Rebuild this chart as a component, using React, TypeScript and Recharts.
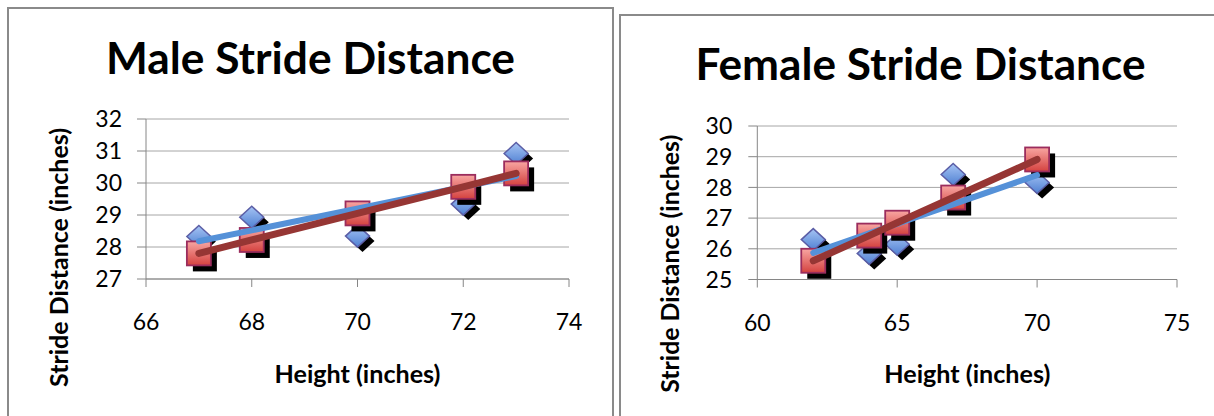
import React from 'react';
import { ScatterChart, Scatter, XAxis, YAxis, CartesianGrid } from 'recharts';

// Male measurements (inches)
const maleHeights = [67, 68, 70, 72, 73];
const maleStride = [28.33, 28.93, 28.34, 29.34, 30.92];
const malePredicted = [27.8, 28.22, 29.05, 29.88, 30.3];
const maleTrendHeights = [67, 73];
const maleTrendStride = [28.18, 30.22];
const maleXTicks = [66, 68, 70, 72, 74];
const maleYTicks = [27, 28, 29, 30, 31, 32];

// Female measurements (inches)
const femaleHeights = [62, 64, 65, 67, 70];
const femaleStride = [26.3, 25.85, 26.15, 28.42, 28.16];
const femalePredicted = [25.61, 26.43, 26.85, 27.67, 28.91];
const femaleTrendHeights = [62, 70];
const femaleTrendStride = [25.87, 28.4];
const femaleXTicks = [60, 65, 70, 75];
const femaleYTicks = [25, 26, 27, 28, 29, 30];

const toPoints = (xs: number[], ys: number[]) => xs.map((x, i) => ({ x, y: ys[i] }));

const FONT = 'Lato, "Open Sans", sans-serif';
const AXIS_GRAY = '#868686';
const GRID_GRAY = '#a6a6a6';
const BLUE_LINE = '#5591d8';
const RED_LINE = '#963634';

const makeDiamond = (gid: string) => (props: any) => {
  const { cx, cy } = props;
  if (cx == null || cy == null) return <g />;
  const hw = 12;
  const hh = 11;
  const d = (ox: number, oy: number) =>
    `M${cx + ox},${cy - hh + oy} L${cx + hw + ox},${cy + oy} L${cx + ox},${cy + hh + oy} L${cx - hw + ox},${cy + oy} Z`;
  return (
    <g>
      <path d={d(5, 5)} fill="#000" />
      <path d={d(0, 0)} fill={`url(#${gid})`} stroke="#5b5ea6" strokeWidth={1.5} />
    </g>
  );
};

const makeSquare = (gid: string) => (props: any) => {
  const { cx, cy } = props;
  if (cx == null || cy == null) return <g />;
  const h = 12;
  return (
    <g>
      <rect x={cx - h + 6} y={cy - h + 6} width={2 * h} height={2 * h} fill="#000" />
      <rect x={cx - h} y={cy - h} width={2 * h} height={2 * h} fill={`url(#${gid})`} stroke="#9b2d5d" strokeWidth={1.8} />
    </g>
  );
};

const NoShape = () => <g />;

type PanelProps = {
  id: string;
  title: string;
  titleWidth: number;
  width: number;
  margin: { top: number; right: number; bottom: number; left: number };
  yAxisWidth: number;
  yTickMargin: number;
  xDomain: [number, number];
  yDomain: [number, number];
  xTicks: number[];
  yTicks: number[];
  heights: number[];
  stride: number[];
  predicted: number[];
  trendHeights: number[];
  trendStride: number[];
  titleX: number;
  titleY: number;
  yLabelX: number;
  yLabelY: number;
  yLabelWidth: number;
  xLabelX: number;
  xLabelY: number;
};

function StridePanel(p: PanelProps) {
  const blueId = `${p.id}-blue`;
  const redId = `${p.id}-red`;
  const tickStyle = { fill: '#000', fontSize: 23, fontFamily: FONT };
  return (
    <ScatterChart width={p.width} height={416} margin={p.margin}>
      <defs>
        <linearGradient id={blueId} x1="0" y1="0" x2="0" y2="1">
          <stop offset="0%" stopColor="#a6c4f4" />
          <stop offset="100%" stopColor="#4f80d2" />
        </linearGradient>
        <linearGradient id={redId} x1="0" y1="0" x2="0" y2="1">
          <stop offset="0%" stopColor="#f8a6a2" />
          <stop offset="100%" stopColor="#d4423f" />
        </linearGradient>
      </defs>
      <CartesianGrid vertical={false} stroke={GRID_GRAY} strokeWidth={1} />
      <XAxis
        type="number"
        dataKey="x"
        domain={p.xDomain}
        ticks={p.xTicks}
        interval={0}
        height={60}
        tickSize={8}
        tickMargin={27}
        axisLine={{ stroke: AXIS_GRAY }}
        tickLine={{ stroke: AXIS_GRAY }}
        tick={tickStyle}
        allowDataOverflow
      />
      <YAxis
        type="number"
        dataKey="y"
        domain={p.yDomain}
        ticks={p.yTicks}
        interval={0}
        width={p.yAxisWidth}
        tickSize={9}
        tickMargin={p.yTickMargin}
        axisLine={{ stroke: AXIS_GRAY }}
        tickLine={{ stroke: AXIS_GRAY }}
        tick={tickStyle}
        allowDataOverflow
      />
      <Scatter
        data={toPoints(p.heights, p.stride)}
        shape={makeDiamond(blueId)}
        isAnimationActive={false}
        legendType="none"
      />
      <Scatter
        data={toPoints(p.heights, p.predicted)}
        shape={makeSquare(redId)}
        isAnimationActive={false}
        legendType="none"
      />
      <Scatter
        data={toPoints(p.trendHeights, p.trendStride)}
        shape={NoShape}
        line={{ stroke: BLUE_LINE, strokeWidth: 6, strokeLinecap: 'round' }}
        isAnimationActive={false}
        legendType="none"
      />
      <Scatter
        data={toPoints(p.heights, p.predicted)}
        shape={NoShape}
        line={{ stroke: RED_LINE, strokeWidth: 7, strokeLinecap: 'round' }}
        isAnimationActive={false}
        legendType="none"
      />
      <text
        x={p.titleX}
        y={p.titleY}
        textAnchor="middle"
        fontFamily={FONT}
        fontWeight={700}
        fontSize={44}
        textLength={p.titleWidth}
        lengthAdjust="spacingAndGlyphs"
        fill="#000"
      >
        {p.title}
      </text>
      <text
        x={p.yLabelX}
        y={p.yLabelY}
        transform={`rotate(-90 ${p.yLabelX} ${p.yLabelY})`}
        textAnchor="middle"
        fontFamily={FONT}
        fontWeight={700}
        fontSize={24.5}
        textLength={p.yLabelWidth}
        lengthAdjust="spacingAndGlyphs"
        fill="#000"
      >
        Stride Distance (inches)
      </text>
      <text
        x={p.xLabelX}
        y={p.xLabelY}
        textAnchor="middle"
        fontFamily={FONT}
        fontWeight={700}
        fontSize={24.5}
        textLength={166}
        lengthAdjust="spacingAndGlyphs"
        fill="#000"
      >
        Height (inches)
      </text>
    </ScatterChart>
  );
}

export default function App() {
  return (
    <div
      style={{
        position: 'absolute',
        left: 0,
        top: 0,
        width: 1214,
        height: 416,
        overflow: 'hidden',
        background: '#fff',
      }}
    >
      {/* panel frames */}
      <div
        style={{
          position: 'absolute',
          left: 7,
          top: 7,
          width: 607,
          height: 520,
          boxSizing: 'border-box',
          border: '2px solid #8a8a8a',
        }}
      />
      <div
        style={{
          position: 'absolute',
          left: 619,
          top: 14,
          width: 700,
          height: 520,
          boxSizing: 'border-box',
          border: '2px solid #8a8a8a',
        }}
      />
      <div style={{ position: 'absolute', left: 0, top: 0 }}>
        <StridePanel
          id="male"
          title="Male Stride Distance"
          titleWidth={409}
          width={614}
          margin={{ top: 119, right: 45, bottom: 77, left: 0 }}
          yAxisWidth={146}
          yTickMargin={15}
          xDomain={[66, 74]}
          yDomain={[27, 32]}
          xTicks={maleXTicks}
          yTicks={maleYTicks}
          heights={maleHeights}
          stride={maleStride}
          predicted={malePredicted}
          trendHeights={maleTrendHeights}
          trendStride={maleTrendStride}
          titleX={310.5}
          titleY={73.5}
          yLabelX={67.5}
          yLabelY={257.5}
          yLabelWidth={259}
          xLabelX={357.5}
          xLabelY={382.7}
        />
      </div>
      <div style={{ position: 'absolute', left: 614, top: 0 }}>
        <StridePanel
          id="female"
          title="Female Stride Distance"
          titleWidth={450}
          width={600}
          margin={{ top: 126, right: 37, bottom: 76.5, left: 0 }}
          yAxisWidth={143.3}
          yTickMargin={16}
          xDomain={[60, 75]}
          yDomain={[25, 30]}
          xTicks={femaleXTicks}
          yTicks={femaleYTicks}
          heights={femaleHeights}
          stride={femaleStride}
          predicted={femalePredicted}
          trendHeights={femaleTrendHeights}
          trendStride={femaleTrendStride}
          titleX={306.5}
          titleY={80}
          yLabelX={65.3}
          yLabelY={263.8}
          yLabelWidth={258}
          xLabelX={353.3}
          xLabelY={382.7}
        />
      </div>
    </div>
  );
}
